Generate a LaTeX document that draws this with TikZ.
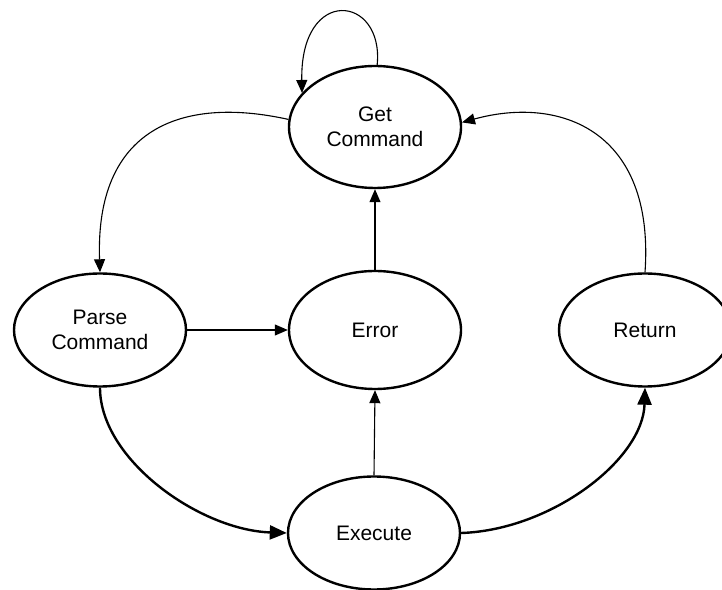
\documentclass[tikz,border=0pt]{standalone}
\usepackage{fontspec}
\setmainfont{Liberation Sans}
\usetikzlibrary{shapes.geometric,arrows.meta}
\begin{document}
\begin{tikzpicture}[x=1pt,y=1pt,
  state/.style={ellipse,draw,line width=2.4pt,minimum width=172pt,minimum height=118pt,inner sep=0pt,align=center,font=\fontsize{21}{25}\selectfont},
  thinarrow/.style={line width=1.1pt,-{Triangle[length=13pt,width=11pt]}},
  thickarrow/.style={line width=2.4pt,-{Triangle[length=17pt,width=14pt]}}]
\useasboundingbox (0,0) rectangle (722,589);
\node[state,minimum height=122pt] (get) at (375,462) {Get\\Command};
\node[state,minimum height=113pt] (parse) at (100,259) {Parse\\Command};
\node[state] (error) at (375,259) {Error};
\node[state,minimum height=113pt] (ret) at (645,259) {Return};
\node[state,minimum height=113pt] (exec) at (374,56) {Execute};
% self loop
\draw[thinarrow] (get.88) .. controls +(7,70) and +(-2,108) .. (get.155);
% get -> parse
\draw[thinarrow] (get.175) .. controls +(-108,24) and +(-5,143) .. (parse.north);
% parse -> error
\draw[thinarrow] (parse.east) -- (error.west);
% error -> get
\draw[thinarrow] (error.north) -- (get.south);
% exec -> error
\draw[thinarrow] (exec.north) -- (error.south);
% parse -> exec
\draw[thickarrow] (parse.south) .. controls +(0,-72) and +(-87,3) .. (exec.west);
% exec -> return
\draw[thickarrow] (exec.east) .. controls +(90,3) and +(-2,-72) .. (ret.south);
% return -> get
\draw[thinarrow] (ret.north) .. controls +(10,142) and +(98,27) .. (get.3);
\end{tikzpicture}
\end{document}
